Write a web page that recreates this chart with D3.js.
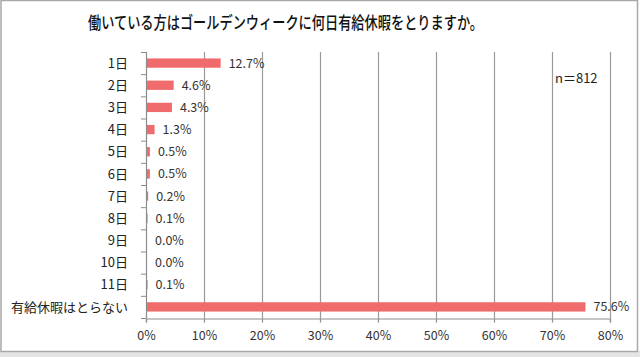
<!DOCTYPE html>
<html><head><meta charset="utf-8">
<script src="https://cdn.jsdelivr.net/npm/d3@7"></script>
<style>
html,body{margin:0;padding:0;background:#fff;}
text{font-family:"Noto Sans CJK JP","Noto Sans",sans-serif;}
</style></head>
<body><svg id="c" width="640" height="357"></svg>
<script>
const categories = ["1日","2日","3日","4日","5日","6日","7日","8日","9日","10日","11日","有給休暇はとらない"];
const values = [12.7,4.6,4.3,1.3,0.5,0.5,0.2,0.1,0.0,0.0,0.1,75.6];
const xTicks = [0,10,20,30,40,50,60,70,80];
const title = "働いている方はゴールデンウィークに何日有給休暇をとりますか。";
const note = "n＝812";

const svg = d3.select("#c");
// frame
svg.append("rect").attr("x",0).attr("y",351).attr("width",640).attr("height",6).attr("fill","#e4e4e4");
svg.append("rect").attr("x",1).attr("y",0.5).attr("width",636.5).attr("height",351)
  .attr("fill","none").attr("stroke","#a8a8a8").attr("stroke-width",1.5);

const x = d3.scaleLinear().domain([0,80]).range([146,610]);
const y = d3.scaleBand().domain(categories).range([52,318]).paddingInner(0.58).paddingOuter(0.29);

// gridlines
svg.append("g").selectAll("line").data(xTicks.slice(1)).join("line")
  .attr("x1",d=>x(d)+0.5).attr("x2",d=>x(d)+0.5).attr("y1",52).attr("y2",318)
  .attr("stroke","#9a9a9a").attr("stroke-width",1.2);

// bars
svg.append("g").selectAll("rect").data(values).join("rect")
  .attr("x",x(0)+1).attr("y",(d,i)=>y(categories[i]))
  .attr("width",d=>Math.max(0,x(d)-x(0)))
  .attr("height",y.bandwidth())
  .attr("fill","#f06c6c");

// y axis
const y0 = y.range()[0], step = y.step();
svg.append("line").attr("x1",x(0)+0.5).attr("x2",x(0)+0.5).attr("y1",y0).attr("y2",318)
  .attr("stroke","#8c8c8c").attr("stroke-width",1.2);
svg.append("g").selectAll("line").data(d3.range(categories.length+1)).join("line")
  .attr("x1",x(0)-5).attr("x2",x(0)).attr("y1",i=>y0+i*step+0.5).attr("y2",i=>y0+i*step+0.5)
  .attr("stroke","#8c8c8c");

// x axis
const xa = svg.append("g").attr("transform","translate(0,318.5)")
  .call(d3.axisBottom(x).tickValues(xTicks).tickSize(4).tickPadding(9).tickFormat(d=>d+"%"));
xa.select(".domain").attr("stroke","#8c8c8c").attr("stroke-width",1.2);
xa.selectAll(".tick line").attr("stroke","#8c8c8c").attr("stroke-width",1.2);
xa.selectAll(".tick text").attr("font-size",12.5).attr("fill","#333")
  .style("font-family",'"Noto Sans CJK JP","Noto Sans",sans-serif');

// category labels
svg.append("g").selectAll("text").data(categories).join("text")
  .attr("x",128).attr("y",d=>y(d)+y.bandwidth()/2).attr("dy","0.36em")
  .attr("text-anchor","end").attr("font-size",13).attr("fill","#222").text(d=>d);

// value labels
svg.append("g").selectAll("text").data(values).join("text")
  .attr("x",d=>x(d)+9).attr("y",(d,i)=>y(categories[i])+y.bandwidth()/2).attr("dy","0.36em")
  .attr("font-size",12.5).attr("fill","#333").text(d=>d.toFixed(1)+"%");

// title
svg.append("text").attr("x",88).attr("y",29).attr("font-size",17).attr("font-weight",500)
  .attr("fill","#111").attr("textLength",395).attr("lengthAdjust","spacingAndGlyphs").text(title);

// note
svg.append("text").attr("x",555).attr("y",78).attr("dy","0.36em").attr("font-size",13)
  .attr("fill","#222").text(note);
</script></body></html>
